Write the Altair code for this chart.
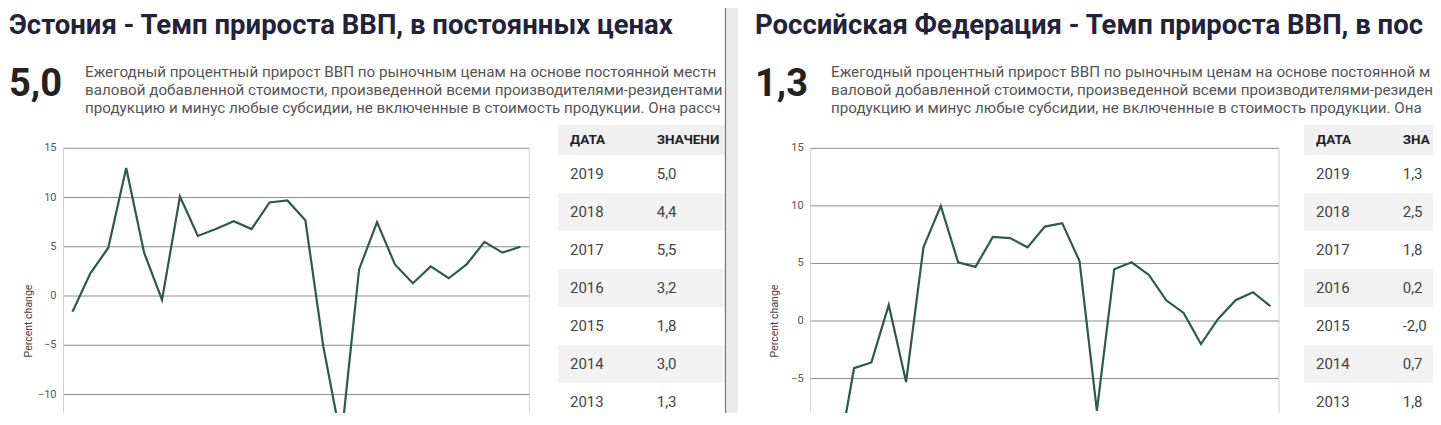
import altair as alt
import pandas as pd

FONT = "Roboto"
OFF = 8          # page margin: screen px -> chart px
W, H = 1425, 405
CUT = "\u200b"   # zero-width "ellipsis": plain cut at the window edge

# ---------------- data ----------------
est_years = list(range(1994, 2020))
est_vals = [-1.6, 2.3, 4.9, 13.0, 4.4, -0.4, 10.1, 6.1, 6.8, 7.6, 6.8, 9.5, 9.7,
            7.7, -5.1, -14.6, 2.7, 7.5, 3.2, 1.3, 3.0, 1.8, 3.2, 5.5, 4.4, 5.0]

rus_years = list(range(1993, 2020))
rus_vals = [-8.7, -12.6, -4.1, -3.6, 1.4, -5.3, 6.4, 10.0, 5.1, 4.7, 7.3, 7.2, 6.4,
            8.2, 8.5, 5.2, -7.8, 4.5, 5.1, 4.0, 1.8, 0.7, -2.0, 0.2, 1.8, 2.5, 1.3]

y_ticks = [-15, -10, -5, 0, 5, 10, 15]

est_title = "Эстония - Темп прироста ВВП, в постоянных ценах"
rus_title = "Российская Федерация - Темп прироста ВВП, в постоянных ценах"
desc_lines = [
    "Ежегодный процентный прирост ВВП по рыночным ценам на основе постоянной местной валюты. Агрегаты",
    "валовой добавленной стоимости, произведенной всеми производителями-резидентами в экономике, плюс",
    "продукцию и минус любые субсидии, не включенные в стоимость продукции. Она рассчитывается без",
]
table_headers = ["ДАТА", "ЗНАЧЕНИЕ"]
axis_title = "Percent change"


def s(v):
    return v - OFF


def fmt(v):
    return f"{v:.1f}".replace(".", ",")


def panel(dx, edge, years, vals, title, x_left, x_right, y_zero, px_unit):
    """edge: screen x where this browser window's content is cut off."""
    layers = []
    # header texts
    layers.append(
        alt.Chart(pd.DataFrame({"t": [title]})).mark_text(
            font=FONT, fontSize=27.5, fontWeight="bold", color="#22223a",
            align="left", baseline="alphabetic",
            limit=edge - (9 + dx), ellipsis=CUT
        ).encode(x=alt.value(s(9) + dx), y=alt.value(s(33.5)), text="t:N")
    )
    layers.append(
        alt.Chart(pd.DataFrame({"t": [fmt(vals[-1])]})).mark_text(
            font=FONT, fontSize=38, fontWeight="bold", color="#222222",
            align="left", baseline="alphabetic"
        ).encode(x=alt.value(s(9) + dx), y=alt.value(s(95.5)), text="t:N")
    )
    desc_df = pd.DataFrame({"t": desc_lines, "i": list(range(len(desc_lines)))})
    layers.append(
        alt.Chart(desc_df).mark_text(
            font=FONT, fontSize=15.2, color="#555555", align="left", baseline="alphabetic",
            limit=edge - (85 + dx), ellipsis=CUT
        ).encode(
            x=alt.value(s(85) + dx),
            y=alt.Y("i:Q", scale=alt.Scale(domain=[0, 2], range=[s(76.5), s(112.5)]), axis=None),
            text="t:N",
        )
    )

    # line chart
    n_lo, n_hi = years[0] - 0.5, years[-1] + 0.5
    yscale = alt.Scale(domain=[-15, 15],
                       range=[s(y_zero + 15 * px_unit), s(y_zero - 15 * px_unit)])
    top = s(y_zero - 15 * px_unit)
    v_min_visible = (y_zero - (H + OFF - 6)) / px_unit
    tick_df = pd.DataFrame({"v": y_ticks})
    layers.append(
        alt.Chart(tick_df).mark_rule(color="#8c8c8c", strokeWidth=1, clip=True).encode(
            x=alt.value(s(x_left)), x2=alt.value(s(x_right)),
            y=alt.Y("v:Q", scale=yscale, axis=None),
        )
    )
    layers.append(
        alt.Chart(tick_df).transform_filter(f"datum.v >= {v_min_visible:.3f}").mark_text(
            font=FONT, fontSize=11, color="#555555", align="right", baseline="middle", clip=True
        ).encode(
            x=alt.value(s(x_left) - 7),
            y=alt.Y("v:Q", scale=yscale, axis=None),
            text="v:Q",
        )
    )
    for xb in (x_left, x_right):
        layers.append(
            alt.Chart(pd.DataFrame({"a": [0]})).mark_rule(color="#cfcfcf", strokeWidth=1).encode(
                x=alt.value(s(xb)), y=alt.value(top), y2=alt.value(H)
            )
        )
    layers.append(
        alt.Chart(pd.DataFrame({"t": [axis_title]})).mark_text(
            font=FONT, fontSize=10.5, color="#444444", angle=270,
            align="center", baseline="middle"
        ).encode(x=alt.value(s(28.5) + dx), y=alt.value(s(321)), text="t:N")
    )
    line_df = pd.DataFrame({"year": years, "val": vals})
    layers.append(
        alt.Chart(line_df).mark_line(color="#2e5a48", strokeWidth=2.2, clip=True).encode(
            x=alt.X("year:Q", scale=alt.Scale(domain=[n_lo, n_hi],
                                                range=[s(x_left), s(x_right)]), axis=None),
            y=alt.Y("val:Q", scale=yscale, axis=None),
        )
    )

    # table
    ty = list(reversed(years))[:7]
    tv = list(reversed(vals))[:7]
    tab = pd.DataFrame({
        "year": [str(y) for y in ty],
        "val": [fmt(v) for v in tv],
        "idx": list(range(7)),
    })
    tab["idx1"] = tab["idx"] + 1
    tab["mid"] = tab["idx"] + 0.5
    tscale = alt.Scale(domain=[0, 7], range=[s(155), s(155) + 266])
    tx = s(558) + dx
    tx2 = s(edge)
    layers.append(
        alt.Chart(pd.DataFrame({"a": [0]})).mark_rect(color="#f0f0f0").encode(
            x=alt.value(tx), x2=alt.value(tx2), y=alt.value(s(125)), y2=alt.value(s(155))
        )
    )
    layers.append(
        alt.Chart(tab).transform_filter("datum.idx % 2 == 1").mark_rect(color="#f2f2f2").encode(
            x=alt.value(tx), x2=alt.value(tx2),
            y=alt.Y("idx:Q", scale=tscale, axis=None), y2="idx1:Q",
        )
    )
    for hi, (htxt, hx) in enumerate(zip(table_headers, (570, 656.7))):
        layers.append(
            alt.Chart(pd.DataFrame({"t": [htxt]})).mark_text(
                font=FONT, fontSize=13.5, fontWeight="bold", color="#222222",
                align="left", baseline="middle",
                limit=edge - (hx + dx), ellipsis=CUT
            ).encode(x=alt.value(s(hx) + dx), y=alt.value(s(140)), text="t:N")
        )
    for col, xx in (("year", 570), ("val", 656.7)):
        layers.append(
            alt.Chart(tab).mark_text(
                font=FONT, fontSize=15, color="#444444", align="left", baseline="middle"
            ).encode(
                x=alt.value(s(xx) + dx),
                y=alt.Y("mid:Q", scale=tscale, axis=None),
                text=f"{col}:N",
            )
        )
    return layers


left = panel(0, 725, est_years, est_vals, est_title, 63.5, 529.3, 296, 9.85)
right = panel(746, W + OFF, rus_years, rus_vals, rus_title, 810.7, 1279, 321, 11.51)

one = pd.DataFrame({"a": [0]})
cover = [
    alt.Chart(one).mark_rect(color="#ebebeb").encode(
        x=alt.value(s(726)), x2=alt.value(s(738)), y=alt.value(0), y2=alt.value(H)),
    alt.Chart(one).mark_rule(color="#7a7a7a", strokeWidth=1.2).encode(
        x=alt.value(s(725.5)), y=alt.value(0), y2=alt.value(H)),
]

chart = alt.layer(*left, *cover, *right).resolve_scale(
    x="independent", y="independent"
).properties(
    width=W, height=H, padding=0, autosize="none"
).configure_view(stroke=None)

chart.save("out.html", embed_options={"renderer": "svg", "actions": False})
